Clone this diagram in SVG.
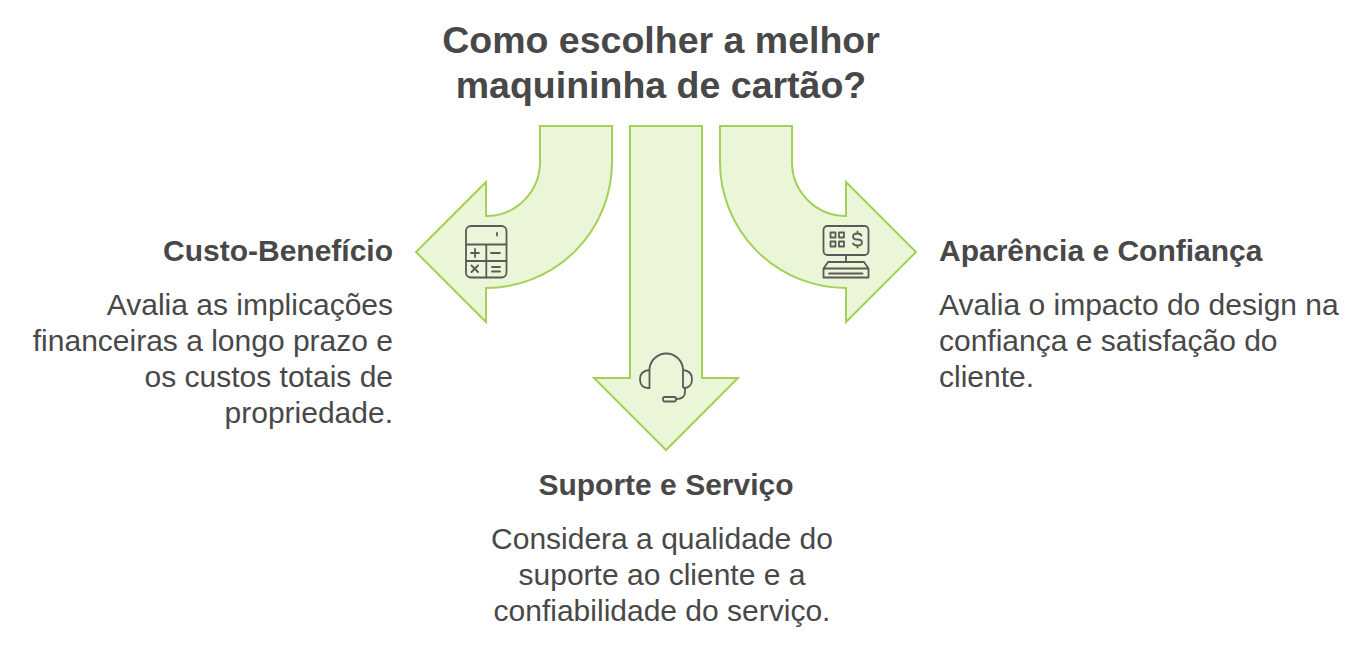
<svg xmlns="http://www.w3.org/2000/svg" width="1368" height="648" viewBox="0 0 1368 648">
<style>
.arrow{fill:#eaf6d7;stroke:#a3d157;stroke-width:2}
.t{font-family:"Liberation Sans",Arial,sans-serif;fill:#484848}
.title{font-size:37.500px;font-weight:700;text-anchor:middle}
.head{font-size:30px;font-weight:700}
.body{font-size:30px}
.end{text-anchor:end}
.mid{text-anchor:middle}
.icon{fill:none;stroke:#5a5a5a;stroke-width:1.800;stroke-linecap:round;stroke-linejoin:round}
</style>
<rect width="1368" height="648" fill="#fff"/>
<g id="title"><text class="t title" x="661" y="53">Como escolher a melhor</text><text class="t title" x="661" y="98">maquininha de cartão?</text></g>
<g id="connectors">
<path id="arrow-left" class="arrow" d="M540 126H612V162A126 126 0 0 1 486 288V322L416 252L486 182V216A54 54 0 0 0 540 162Z"/>
<path id="arrow-down" class="arrow" d="M630 126H702V378H738L666 450L594 378H630Z"/>
<path id="arrow-right" class="arrow" d="M792 126H720V162A126 126 0 0 0 846 288V322L916 252L846 182V216A54 54 0 0 1 792 162Z"/>
</g>
<g id="node-custo">
<g class="icon"><rect x="466" y="226" width="40.500" height="51.500" rx="5"/><path d="M466 244.500H506.500M466 261H506.500M486.300 244.500V277.500M497 233V235.500M471 253H479M475 249V257M491 253H500M471.500 265.500L478 272M478 265.500L471.500 272M492 267H500M492 271.500H500"/></g>
<text class="t head end" x="393" y="261">Custo-Benefício</text>
<text class="t body end" x="393" y="315">Avalia as implicações</text>
<text class="t body end" x="393" y="351">financeiras a longo prazo e</text>
<text class="t body end" x="393" y="387">os custos totais de</text>
<text class="t body end" x="393" y="423">propriedade.</text>
</g>
<g id="node-suporte">
<g class="icon"><path d="M649.500 387V369A16.800 16.800 0 0 1 683 369V387M649.500 370Q640 371 640 379Q640 388 648 388H649.500M683 370Q692 371 692 379Q692 388 684 388M685 388V392Q685 399 676 399"/><rect x="663" y="397" width="13" height="4.500" rx="1.500"/></g>
<text class="t head mid" x="666" y="495">Suporte e Serviço</text>
<text class="t body mid" x="662" y="549">Considera a qualidade do</text>
<text class="t body mid" x="662" y="585">suporte ao cliente e a</text>
<text class="t body mid" x="662" y="621">confiabilidade do serviço.</text>
</g>
<g id="node-aparencia">
<g class="icon"><rect x="823.500" y="226" width="45" height="29" rx="4"/><path d="M846 255V262M828 262H864L868.500 268.500V277.500H823.500V268.500ZM823.500 268.500H868.500M829 273.500H862.500"/><rect x="830.500" y="232.500" width="5" height="5"/><rect x="839" y="232.500" width="5" height="5"/><rect x="830.500" y="241.500" width="5" height="5"/><rect x="839" y="241.500" width="5" height="5"/><path d="M861.500 235.500Q860.500 233.500 857.500 233.500Q853 233.500 853 236.500Q853 239.500 857.500 239.500Q862 239.500 862 242.500Q862 245.500 857.500 245.500Q854 245.500 853 243.500M857.500 231.500V233.500M857.500 245.500V247.500"/></g>
<text class="t head" x="939" y="261">Aparência e Confiança</text>
<text class="t body" x="939" y="315">Avalia o impacto do design na</text>
<text class="t body" x="939" y="351">confiança e satisfação do</text>
<text class="t body" x="939" y="387">cliente.</text>
</g>
</svg>
